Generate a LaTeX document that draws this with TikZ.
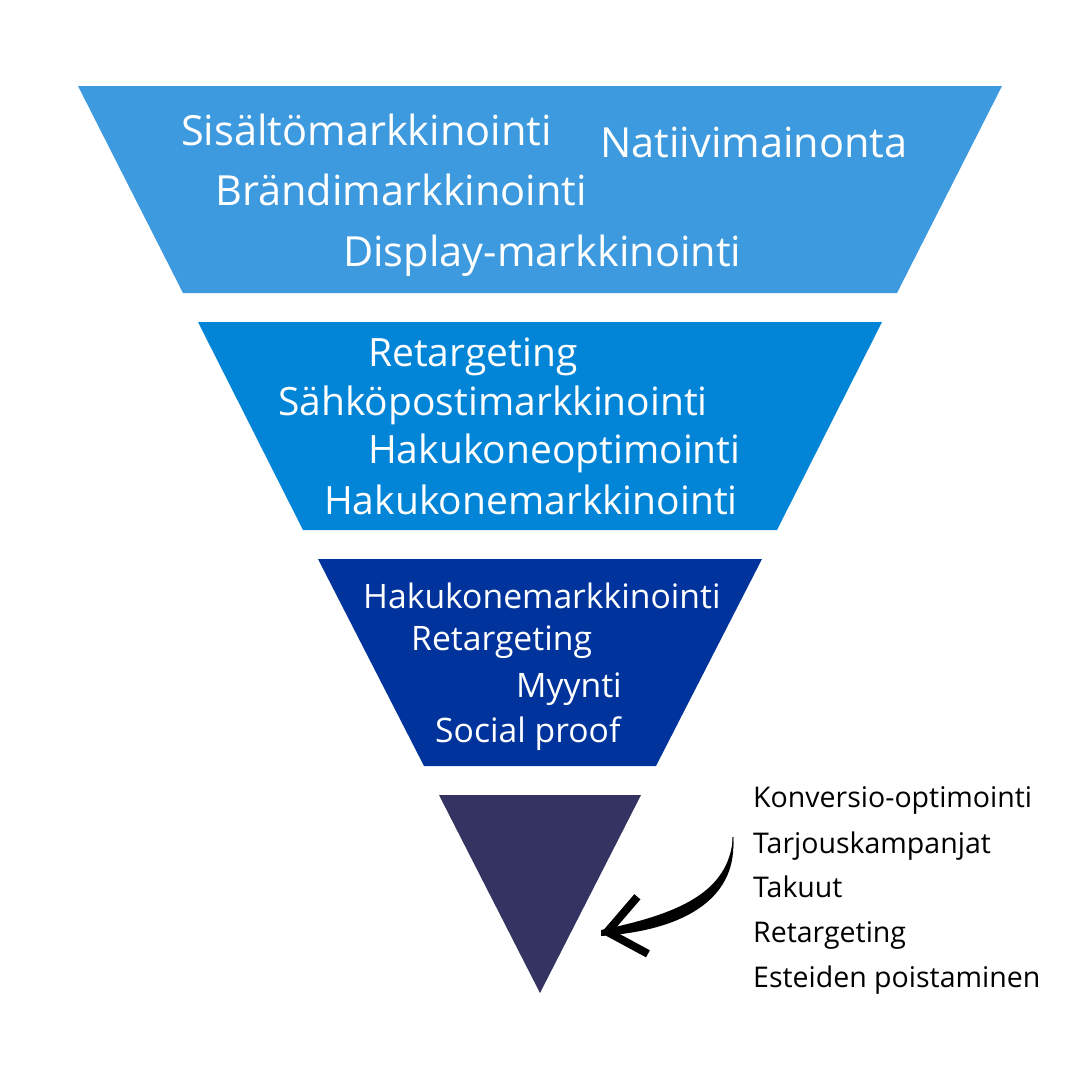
\documentclass[tikz,border=0pt]{standalone}
\usepackage{fontspec}
\setmainfont{Open Sans}
\usetikzlibrary{arrows.meta, calc}
\definecolor{funnelA}{HTML}{3E9ADF}
\definecolor{funnelB}{HTML}{0284D7}
\definecolor{funnelC}{HTML}{00349C}
\definecolor{funnelD}{HTML}{343362}

\begin{document}
\begin{tikzpicture}[x=1pt, y=-1pt,
        top/.style={text=white, anchor=base west, inner sep=0pt, font=\fontsize{41.5}{41.5}\selectfont},
        big/.style={text=white, anchor=base west, inner sep=0pt, font=\fontsize{39}{39}\selectfont},
        mid/.style={text=white, anchor=base west, inner sep=0pt, font=\fontsize{33.7}{33.7}\selectfont},
        side/.style={text=black, anchor=base west, inner sep=0pt, font=\fontsize{28.5}{28.5}\selectfont}]
            \useasboundingbox (0,0) rectangle (1080,1080);

            % Funnel levels
            \fill[funnelA] (78,86) -- (1002,86) -- (897,293) -- (183,293) -- cycle;
            \fill[funnelB] (198,322) -- (882,322) -- (777,530) -- (303,530) -- cycle;
            \fill[funnelC] (318,559) -- (762,559) -- (656,766) -- (424,766) -- cycle;
            \fill[funnelD] (439,795) -- (641,795) -- (540,993) -- cycle;

            % Level 1
            \node[top] (a1) at (181,145) {Sisältömarkkinointi};
            \node[top] (a2) at (600,157) {Natiivimainonta};
            \node[top] (a3) at (215,205) {Brändimarkkinointi};
            \node[top] (a4) at (343,266) {Display-markkinointi};

            % Level 2
            \node[big] (b1) at (368,366) {Retargeting};
            \node[big] (b2) at (278,415) {Sähköpostimarkkinointi};
            \node[big] (b3) at (368,463) {Hakukoneoptimointi};
            \node[big] (b4) at (324,514) {Hakukonemarkkinointi};

            % Level 3
            \node[mid] (c1) at (363,608) {Hakukonemarkkinointi};
            \node[mid] (c2) at (411,650) {Retargeting};
            \node[mid] (c3) at (516,697) {Myynti};
            \node[mid] (c4) at (435,742) {Social proof};

            % Level 4
            \node[side] (d1) at (753,807) {Konversio-optimointi};
            \node[side] (d2) at (753,853) {Tarjouskampanjat};
            \node[side] (d3) at (753,897) {Takuut};
            \node[side] (d4) at (753,942) {Retargeting};
            \node[side] (d5) at (753,987) {Esteiden poistaminen};

            % Arrow
            \coordinate (from) at (733,837);
            \coordinate (to) at (601,933);
            \fill (from) .. controls (738,895) and (690,930) .. ($(to)+(0,3)$)
                -- ($(to)+(0,-3)$) .. controls (678,914) and (729,893) .. (from) -- cycle;
            \draw[line width=1pt, -{Straight Barb[length=36pt, width=58pt, line width=8pt]}]
                (from) .. controls (734,893) and (682,918) .. (to);
        \end{tikzpicture}
\end{document}
